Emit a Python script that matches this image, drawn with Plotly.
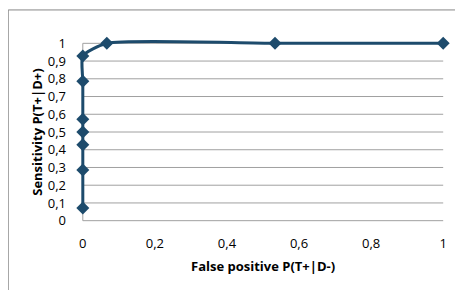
import plotly.graph_objects as go

# ROC points
false_positive = [0, 0, 0, 0, 0, 0, 0, 1/15, 8/15, 1]
sensitivity = [1/14, 4/14, 6/14, 7/14, 8/14, 11/14, 13/14, 1, 1, 1]

x_ticks = [0, 0.2, 0.4, 0.6, 0.8, 1]
x_labels = ["0", "0,2", "0,4", "0,6", "0,8", "1"]
y_ticks = [0, 0.1, 0.2, 0.3, 0.4, 0.5, 0.6, 0.7, 0.8, 0.9, 1]
y_labels = ["0", "0,1", "0,2", "0,3", "0,4", "0,5", "0,6", "0,7", "0,8", "0,9", "1"]

line_color = "#1D4B6C"
grid_color = "#A0A0A0"

OFF = 8  # page body margin
W, H = 463 - OFF, 290 - OFF
# pixel positions (within the figure) of data 0 and 1
X0, X1 = 83 - OFF, 443 - OFF
Y0, Y1 = 221 - OFF, 43 - OFF
pad = 0.03
ux = X1 - X0
uy = Y0 - Y1
L = X0 - pad * ux
R = W - (X1 + pad * ux)
T = Y1 - pad * uy
B = H - (Y0 + pad * uy)

fig = go.Figure()

for yv in y_ticks:
    fig.add_shape(type="line", xref="x", yref="y", x0=0, x1=1, y0=yv, y1=yv,
                  line=dict(color=grid_color, width=1), layer="below")
fig.add_shape(type="line", xref="x", yref="y", x0=0, x1=0, y0=0, y1=1,
              line=dict(color=grid_color, width=1), layer="below")

fig.add_trace(go.Scatter(
    x=false_positive, y=sensitivity, mode="lines+markers",
    line=dict(color=line_color, width=3, shape="spline", smoothing=0.6),
    marker=dict(symbol="diamond", size=10, color=line_color),
    showlegend=False, cliponaxis=False,
))

pw, ph = W - L - R, H - T - B
bx = (8 - OFF + 0.5 - L) / pw
by = 1 + (T - (9 - OFF + 0.5)) / ph
fig.add_shape(type="path", xref="paper", yref="paper",
              path=f"M {bx} {-1} L {bx} {by} L 1.5 {by}",
              line=dict(color="#868686", width=1))

font = "Open Sans"
fig.update_layout(
    width=W, height=H,
    margin=dict(l=L, r=R, t=T, b=B, autoexpand=False),
    paper_bgcolor="white", plot_bgcolor="white",
    font=dict(family=font, size=13, color="#000000"),
    xaxis=dict(range=[-pad, 1 + pad], tickvals=x_ticks, ticktext=x_labels,
               showgrid=False, zeroline=False, automargin=False,
               showline=False, ticks="", ticklabelstandoff=8),
    yaxis=dict(range=[-pad, 1 + pad], tickvals=y_ticks, ticktext=y_labels,
               showgrid=False, zeroline=False, automargin=False,
               showline=False, ticks="", ticklabelstandoff=5),
    annotations=[
        dict(text="<b>False positive P(T+|D-)</b>", xref="paper", yref="paper",
             x=0.5, y=-((266 - OFF) - (H - B)) / ph, xanchor="center", yanchor="middle",
             showarrow=False, font=dict(size=13)),
        dict(text="<b>Sensitivity P(T+|D+)</b>", xref="paper", yref="paper",
             x=-(L - (37 - OFF)) / pw, y=0.5, xanchor="center", yanchor="middle",
             textangle=-90, showarrow=False, font=dict(size=13)),
    ],
)
fig.write_html("out.html")
